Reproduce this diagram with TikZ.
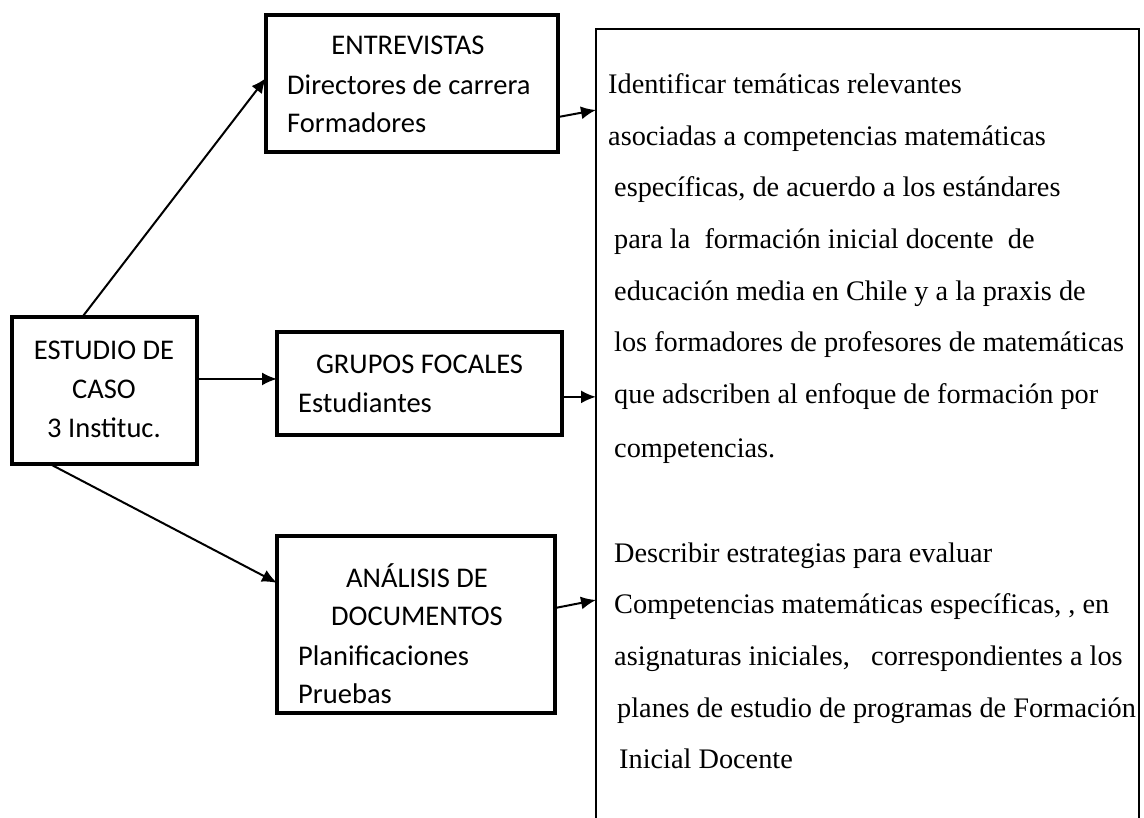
\documentclass[tikz,border=0pt]{standalone}
\usepackage{fontspec}
\setmainfont{Liberation Serif}
\newfontfamily\calib{Carlito}
\usetikzlibrary{arrows.meta,calc}
\tikzset{
  box/.style={draw,line width=4.5pt,rectangle,inner sep=0pt,outer sep=0pt},
  bigbox/.style={draw,line width=1.8pt,rectangle,inner sep=0pt,outer sep=0pt,anchor=north west,minimum width=543pt,minimum height=801pt},
  lbl/.style={inner sep=0pt,font=\calib\fontsize{28.5}{34}\selectfont},
  rtx/.style={inner sep=0pt,anchor=base west,font=\fontsize{28.3}{34}\selectfont},
  conn/.style={line width=2pt,-{Latex[length=15pt,width=13pt]}}
}
\begin{document}
\begin{tikzpicture}[x=1pt,y=-1pt]
\useasboundingbox (0,0) rectangle (1144,818);
\fill[white] (0,0) rectangle (1144,818);
% boxes
\node[box,minimum width=185pt,minimum height=147pt] (est) at (104.5,390.5) {};
\node[box,minimum width=292pt,minimum height=137pt] (ent) at (412,83.5) {};
\node[box,minimum width=285pt,minimum height=103pt] (gru) at (419.5,383.5) {};
\node[box,minimum width=278pt,minimum height=177pt] (ana) at (416,624.5) {};
\node[bigbox] (big) at (596,29) {};
% left box texts
\node[lbl,anchor=base] (est1) at (104,360) {ESTUDIO DE};
\node[lbl,anchor=base] (est2) at (104,399) {CASO};
\node[lbl,anchor=base] (est3) at (104,437) {3 Instituc.};
\node[lbl,anchor=base] (ent1) at (408,55) {ENTREVISTAS};
\node[lbl,anchor=base west] (ent2) at (287,95) {Directores de carrera};
\node[lbl,anchor=base west] (ent3) at (287,133) {Formadores};
\node[lbl,anchor=base] (gru1) at (419.5,374) {GRUPOS FOCALES};
\node[lbl,anchor=base west] (gru2) at (298,413) {Estudiantes};
\node[lbl,anchor=base] (ana1) at (417,587) {ANÁLISIS DE};
\node[lbl,anchor=base] (ana2) at (417,625) {DOCUMENTOS};
\node[lbl,anchor=base west] (ana3) at (298,665) {Planificaciones};
\node[lbl,anchor=base west] (ana4) at (298,703) {Pruebas};
% big box text
\node[rtx] (t1) at (608,94) {Identificar temáticas relevantes};
\node[rtx] (t2) at (608,146) {asociadas a competencias matemáticas};
\node[rtx] (t3) at (614,197) {específicas, de acuerdo a los estándares};
\node[rtx] (t4) at (614,249) {para la\ \ formación inicial docente\ \ de};
\node[rtx] (t5) at (614,301) {educación media en Chile y a la praxis de};
\node[rtx] (t6) at (614,352) {los formadores de profesores de matemáticas};
\node[rtx] (t7) at (614,404) {que adscriben al enfoque de formación por};
\node[rtx] (t8) at (614,457) {competencias.};
\node[rtx] (t9) at (614,562) {Describir estrategias para evaluar};
\node[rtx] (t10) at (614,613) {Competencias matemáticas específicas, , en};
\node[rtx] (t11) at (614,665) {asignaturas iniciales,\ \ \ correspondientes a los};
\node[rtx] (t12) at (617,717) {planes de estudio de programas de Formación};
\node[rtx] (t13) at (619,768) {Inicial Docente};
% connectors
\draw[conn] ($(est.north west)!0.38!(est.north east)$) -- ($(ent.north west)!0.46!(ent.south west)$);
\coordinate (gin) at ($(gru.north west)!0.456!(gru.south west)$);
\draw[conn] (est.east |- gin) -- (gin);
\draw[conn] ($(est.south west)!0.205!(est.south east)$) -- ($(ana.north west)!0.265!(ana.south west)$);
\draw[conn] ($(ent.north east)!0.745!(ent.south east)$) -- ([yshift=-81pt]big.north west);
\coordinate (gout) at ($(gru.north east)!0.63!(gru.south east)$);
\draw[conn] (gout) -- (big.west |- gout);
\draw[conn] ($(ana.north east)!0.407!(ana.south east)$) -- ([yshift=-571pt]big.north west);
\end{tikzpicture}
\end{document}
